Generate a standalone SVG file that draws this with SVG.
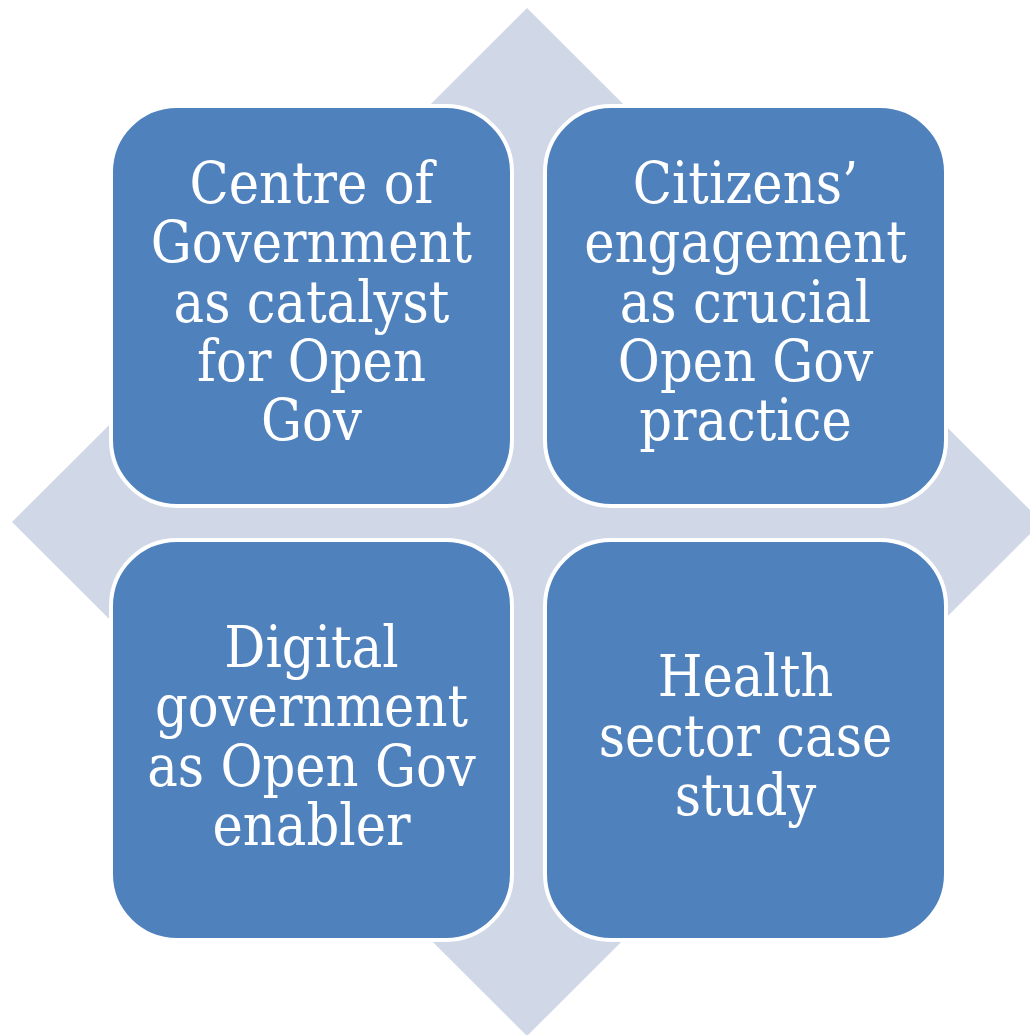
<svg xmlns="http://www.w3.org/2000/svg" width="1030" height="1035" viewBox="0 0 1030 1035">
<style>
.box{fill:#4F81BD;stroke:#FFFFFF;stroke-width:4}
.lbl{fill:#FFFFFF;font-family:"DejaVu Serif Condensed","DejaVu Serif",serif;font-stretch:condensed;font-size:57px;text-anchor:middle}
</style>
<rect width="1030" height="1035" fill="#FFFFFF"/>
<polygon id="diamond" points="527,8 1042,522 527,1036 12,522" fill="#D0D8E8"/>
<g id="connectors"></g>
<g id="node-centre">
<rect class="box" x="111" y="106" width="401" height="400" rx="66" ry="66"/>
<text class="lbl" x="311.5" y="203">Centre of</text>
<text class="lbl" x="311.5" y="262">Government</text>
<text class="lbl" x="311.5" y="321.5">as catalyst</text>
<text class="lbl" x="311.5" y="381">for Open</text>
<text class="lbl" x="311.5" y="440">Gov</text>
</g>
<g id="node-citizens">
<rect class="box" x="545" y="106" width="401" height="400" rx="66" ry="66"/>
<text class="lbl" x="745.5" y="203">Citizens’</text>
<text class="lbl" x="745.5" y="262">engagement</text>
<text class="lbl" x="745.5" y="321.5">as crucial</text>
<text class="lbl" x="745.5" y="381">Open Gov</text>
<text class="lbl" x="745.5" y="440">practice</text>
</g>
<g id="node-digital">
<rect class="box" x="111" y="540" width="401" height="400" rx="66" ry="66"/>
<text class="lbl" x="311.5" y="667">Digital</text>
<text class="lbl" x="311.5" y="726">government</text>
<text class="lbl" x="311.5" y="785.5">as Open Gov</text>
<text class="lbl" x="311.5" y="845">enabler</text>
</g>
<g id="node-health">
<rect class="box" x="545" y="540" width="401" height="400" rx="66" ry="66"/>
<text class="lbl" x="745.5" y="696">Health</text>
<text class="lbl" x="745.5" y="755.5">sector case</text>
<text class="lbl" x="745.5" y="815">study</text>
</g>
</svg>
